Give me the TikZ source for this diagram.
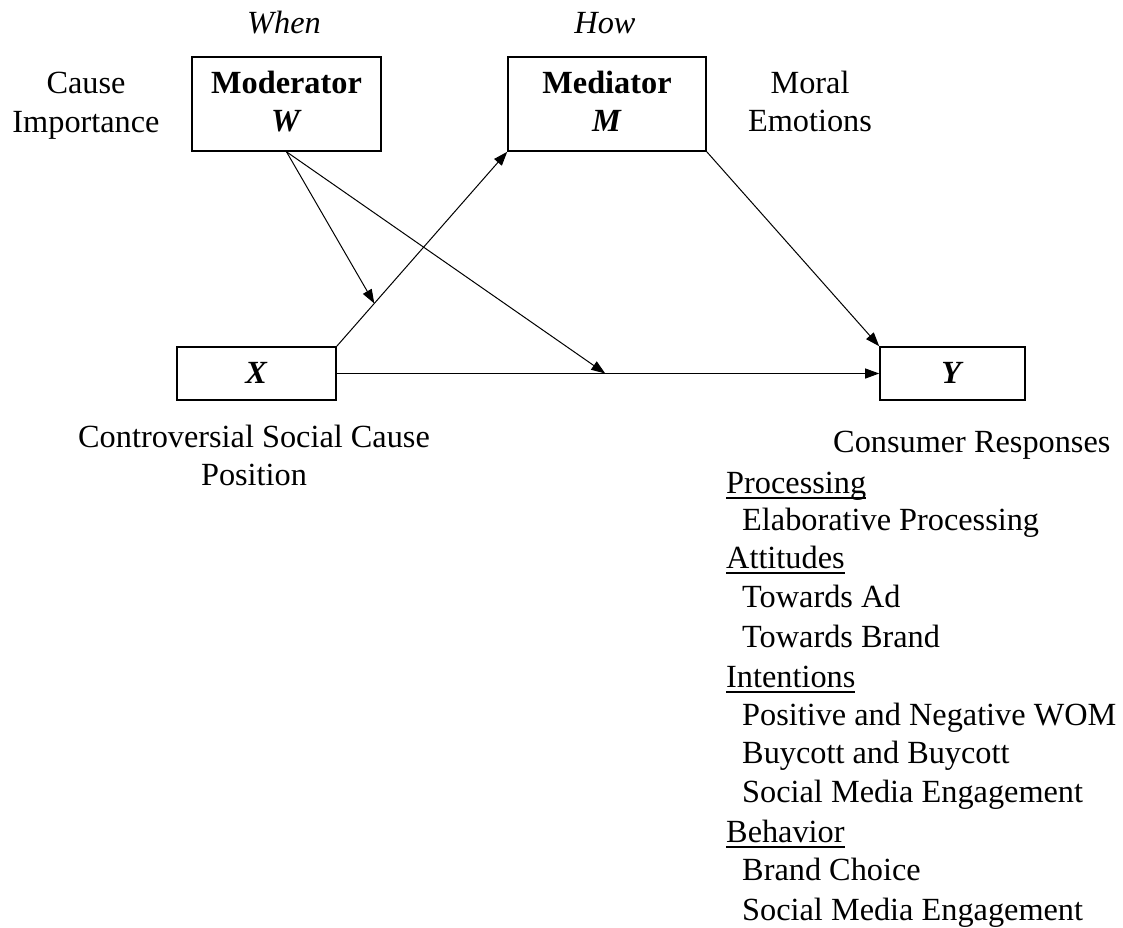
\documentclass[tikz,border=0pt]{standalone}
\usepackage{fontspec}
\setmainfont{Liberation Serif}
\usetikzlibrary{arrows.meta,calc}
\newcommand\ulhead[1]{\setbox0=\hbox{#1}\rlap{\rule[-6pt]{\wd0}{2pt}}\box0}
\begin{document}
\begin{tikzpicture}[x=1pt,y=-1pt,
  every node/.style={font=\fontsize{32.3}{38.5}\selectfont, inner sep=0pt},
  box/.style={draw, line width=1.6pt, inner sep=0pt},
  conn/.style={line width=1pt, -{Triangle[length=14pt,width=10pt]}},
  lbl/.style={anchor=base},
  lst/.style={anchor=base west}]
\useasboundingbox (0,0) rectangle (1123,927);

% boxes
\node[box, minimum width=189pt, minimum height=94pt] (W) at (286.5,104) {};
\node[box, minimum width=198pt, minimum height=94pt] (M) at (607,104) {};
\node[box, minimum width=159pt, minimum height=53pt] (X) at (256.5,373.5) {};
\node[box, minimum width=145pt, minimum height=53pt] (Y) at (952.5,373.5) {};

% box texts
\node[lbl] (Wt1) at (286.5,93) {\textbf{Moderator}};
\node[lbl] (Wt2) at (286.5,131) {\textbf{\textit{W}}};
\node[lbl] (Mt1) at (607,93) {\textbf{Mediator}};
\node[lbl] (Mt2) at (607,131) {\textbf{\textit{M}}};
\node[lbl] (Xt) at (256.5,383) {\textbf{\textit{X}}};
\node[lbl] (Yt) at (952.5,383) {\textbf{\textit{Y}}};

% side labels
\node[lbl] (when) at (284,33) {\textit{When}};
\node[lbl] (how) at (605,33) {\textit{How}};
\node[lbl] (cause1) at (86,93) {Cause};
\node[lbl] (cause2) at (86,132) {Importance};
\node[lbl] (moral1) at (810,93) {Moral};
\node[lbl] (moral2) at (810,131) {Emotions};
\node[lbl] (contr1) at (254,447) {Controversial Social Cause};
\node[lbl] (contr2) at (254,485.5) {Position};
\node[lst] (cons) at (833,452) {Consumer Responses};

% list
\node[lst] (h1) at (726,493) {\ulhead{Processing}};
\node[lst] (i1) at (742,530) {Elaborative Processing};
\node[lst] (h2) at (726,568) {\ulhead{Attitudes}};
\node[lst] (i2) at (742,607) {Towards Ad};
\node[lst] (i3) at (742,647) {Towards Brand};
\node[lst] (h3) at (726,687) {\ulhead{Intentions}};
\node[lst] (i4) at (742,725) {Positive and Negative WOM};
\node[lst] (i5) at (742,763) {Buycott and Buycott};
\node[lst] (i6) at (742,802) {Social Media Engagement};
\node[lst] (h4) at (726,842) {\ulhead{Behavior}};
\node[lst] (i7) at (742,880) {Brand Choice};
\node[lst] (i8) at (742,920) {Social Media Engagement};

% connectors
\coordinate (pxm) at ($(X.north east)!0.22!(M.south west)$);
\coordinate (pxy) at ($(X.east)!0.495!(Y.west)$);
\draw[conn] (X.north east) -- (M.south west);
\draw[conn] (M.south east) -- (Y.north west);
\draw[conn] (X.east) -- (Y.west);
\draw[conn] (W.south) -- (pxm);
\draw[conn] (W.south) -- (pxy);
\end{tikzpicture}
\end{document}
